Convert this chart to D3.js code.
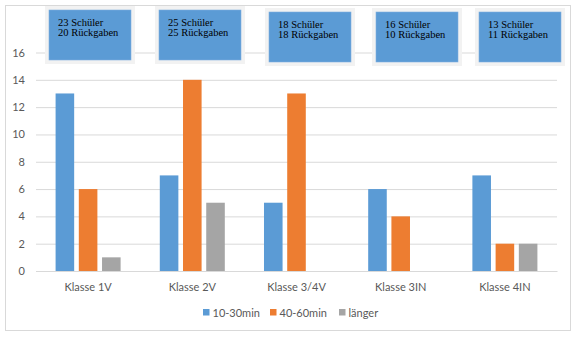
<!DOCTYPE html>
<html>
<head>
<meta charset="utf-8">
<script src="https://cdn.jsdelivr.net/npm/d3@7"></script>
<style>
  html, body { margin: 0; padding: 0; background: #fff; }
  svg { display: block; }
</style>
</head>
<body>
<svg id="chart" width="577" height="338"></svg>
<script>
// Classes and the three duration groups
const classes = ["Klasse 1V", "Klasse 2V", "Klasse 3/4V", "Klasse 3IN", "Klasse 4IN"];
const seriesNames = ["10-30min", "40-60min", "länger"];
const short = [13, 7, 5, 6, 7];
const medium = [6, 14, 13, 4, 2];
const longer = [1, 5, 0, 0, 2];
const yTicks = [0, 2, 4, 6, 8, 10, 12, 14, 16];
// Info boxes per class: students and returned forms
const students = [23, 25, 18, 16, 13];
const returns = [20, 25, 18, 10, 11];

const colors = ["#5B9BD5", "#ED7D31", "#A5A5A5"];
const values = [short, medium, longer];

const svg = d3.select("#chart");
const font = "Lato, 'Liberation Sans', sans-serif";

// Outer frame
svg.append("rect")
  .attr("x", 5.5).attr("y", 5.5).attr("width", 565).attr("height", 325)
  .attr("fill", "#fff").attr("stroke", "#D9D9D9");

const plot = { left: 36, right: 557, top: 52.5, bottom: 271 };

const x = d3.scaleBand().domain(classes).range([plot.left, plot.right]).paddingInner(0.376).paddingOuter(0.188);
const xi = d3.scaleBand().domain(seriesNames).range([0, x.bandwidth()]).paddingInner(0.2);
const y = d3.scaleLinear().domain([0, 16]).range([plot.bottom, plot.top]);

// Gridlines and value axis labels
const yAxis = d3.axisLeft(y).tickValues(yTicks).tickSize(-(plot.right - plot.left)).tickPadding(11);
const gy = svg.append("g").attr("transform", `translate(${plot.left},0)`).call(yAxis);
gy.select(".domain").remove();
gy.selectAll(".tick line").attr("stroke", "#D9D9D9").attr("stroke-width", 1);
gy.selectAll(".tick text").attr("fill", "#595959").attr("font-family", font).attr("font-size", 11);

// Bars
const groups = svg.append("g").selectAll("g")
  .data(classes).join("g")
  .attr("transform", d => `translate(${x(d)},0)`);

groups.selectAll("rect")
  .data((c, i) => seriesNames.map((s, k) => ({ s, v: values[k][i], k })))
  .join("rect")
  .attr("x", d => xi(d.s))
  .attr("width", xi.bandwidth())
  .attr("y", d => y(d.v))
  .attr("height", d => plot.bottom - y(d.v))
  .attr("fill", d => colors[d.k]);

// Category axis
const xAxis = d3.axisBottom(x).tickSize(0).tickPadding(12);
const gx = svg.append("g").attr("transform", `translate(0,${plot.bottom})`).call(xAxis);
gx.select(".domain").attr("stroke", "#D9D9D9");
gx.selectAll(".tick text").attr("fill", "#595959").attr("font-family", font).attr("font-size", 11);

// Info boxes above each class
const boxTop = [10, 10, 12, 12, 12];
const boxX = [49, 159, 269, 376, 479];
const boxes = svg.append("g").selectAll("g")
  .data(classes).join("g")
  .attr("transform", (d, i) => `translate(${boxX[i]},${boxTop[i]})`);
boxes.append("rect")
  .attr("x", -4).attr("y", -4).attr("width", 90).attr("height", 58)
  .attr("fill", "#F2F2F2");
boxes.append("rect")
  .attr("x", 0).attr("y", 0).attr("width", 82).attr("height", 50)
  .attr("fill", "#5B9BD5").attr("stroke", "#7FB0DF").attr("stroke-width", 0.6);
const serif = "'Liberation Serif', 'Times New Roman', serif";
boxes.append("text")
  .attr("x", 9).attr("y", 15.5)
  .attr("font-family", serif).attr("font-size", 10.5).attr("fill", "#000")
  .text((d, i) => `${students[i]} Schüler`);
boxes.append("text")
  .attr("x", 9).attr("y", 26)
  .attr("font-family", serif).attr("font-size", 10.5).attr("fill", "#000")
  .text((d, i) => `${returns[i]} Rückgaben`);

// Legend
const legendX = [203, 270, 339];
const lg = svg.append("g").selectAll("g")
  .data(seriesNames).join("g")
  .attr("transform", (d, i) => `translate(${legendX[i]},309)`);
lg.append("rect").attr("width", 6.5).attr("height", 6.5).attr("fill", (d, i) => colors[i]);
lg.append("text").attr("x", 9.5).attr("y", 7.5)
  .attr("fill", "#595959").attr("font-family", font).attr("font-size", 11)
  .text(d => d);
</script>
</body>
</html>
